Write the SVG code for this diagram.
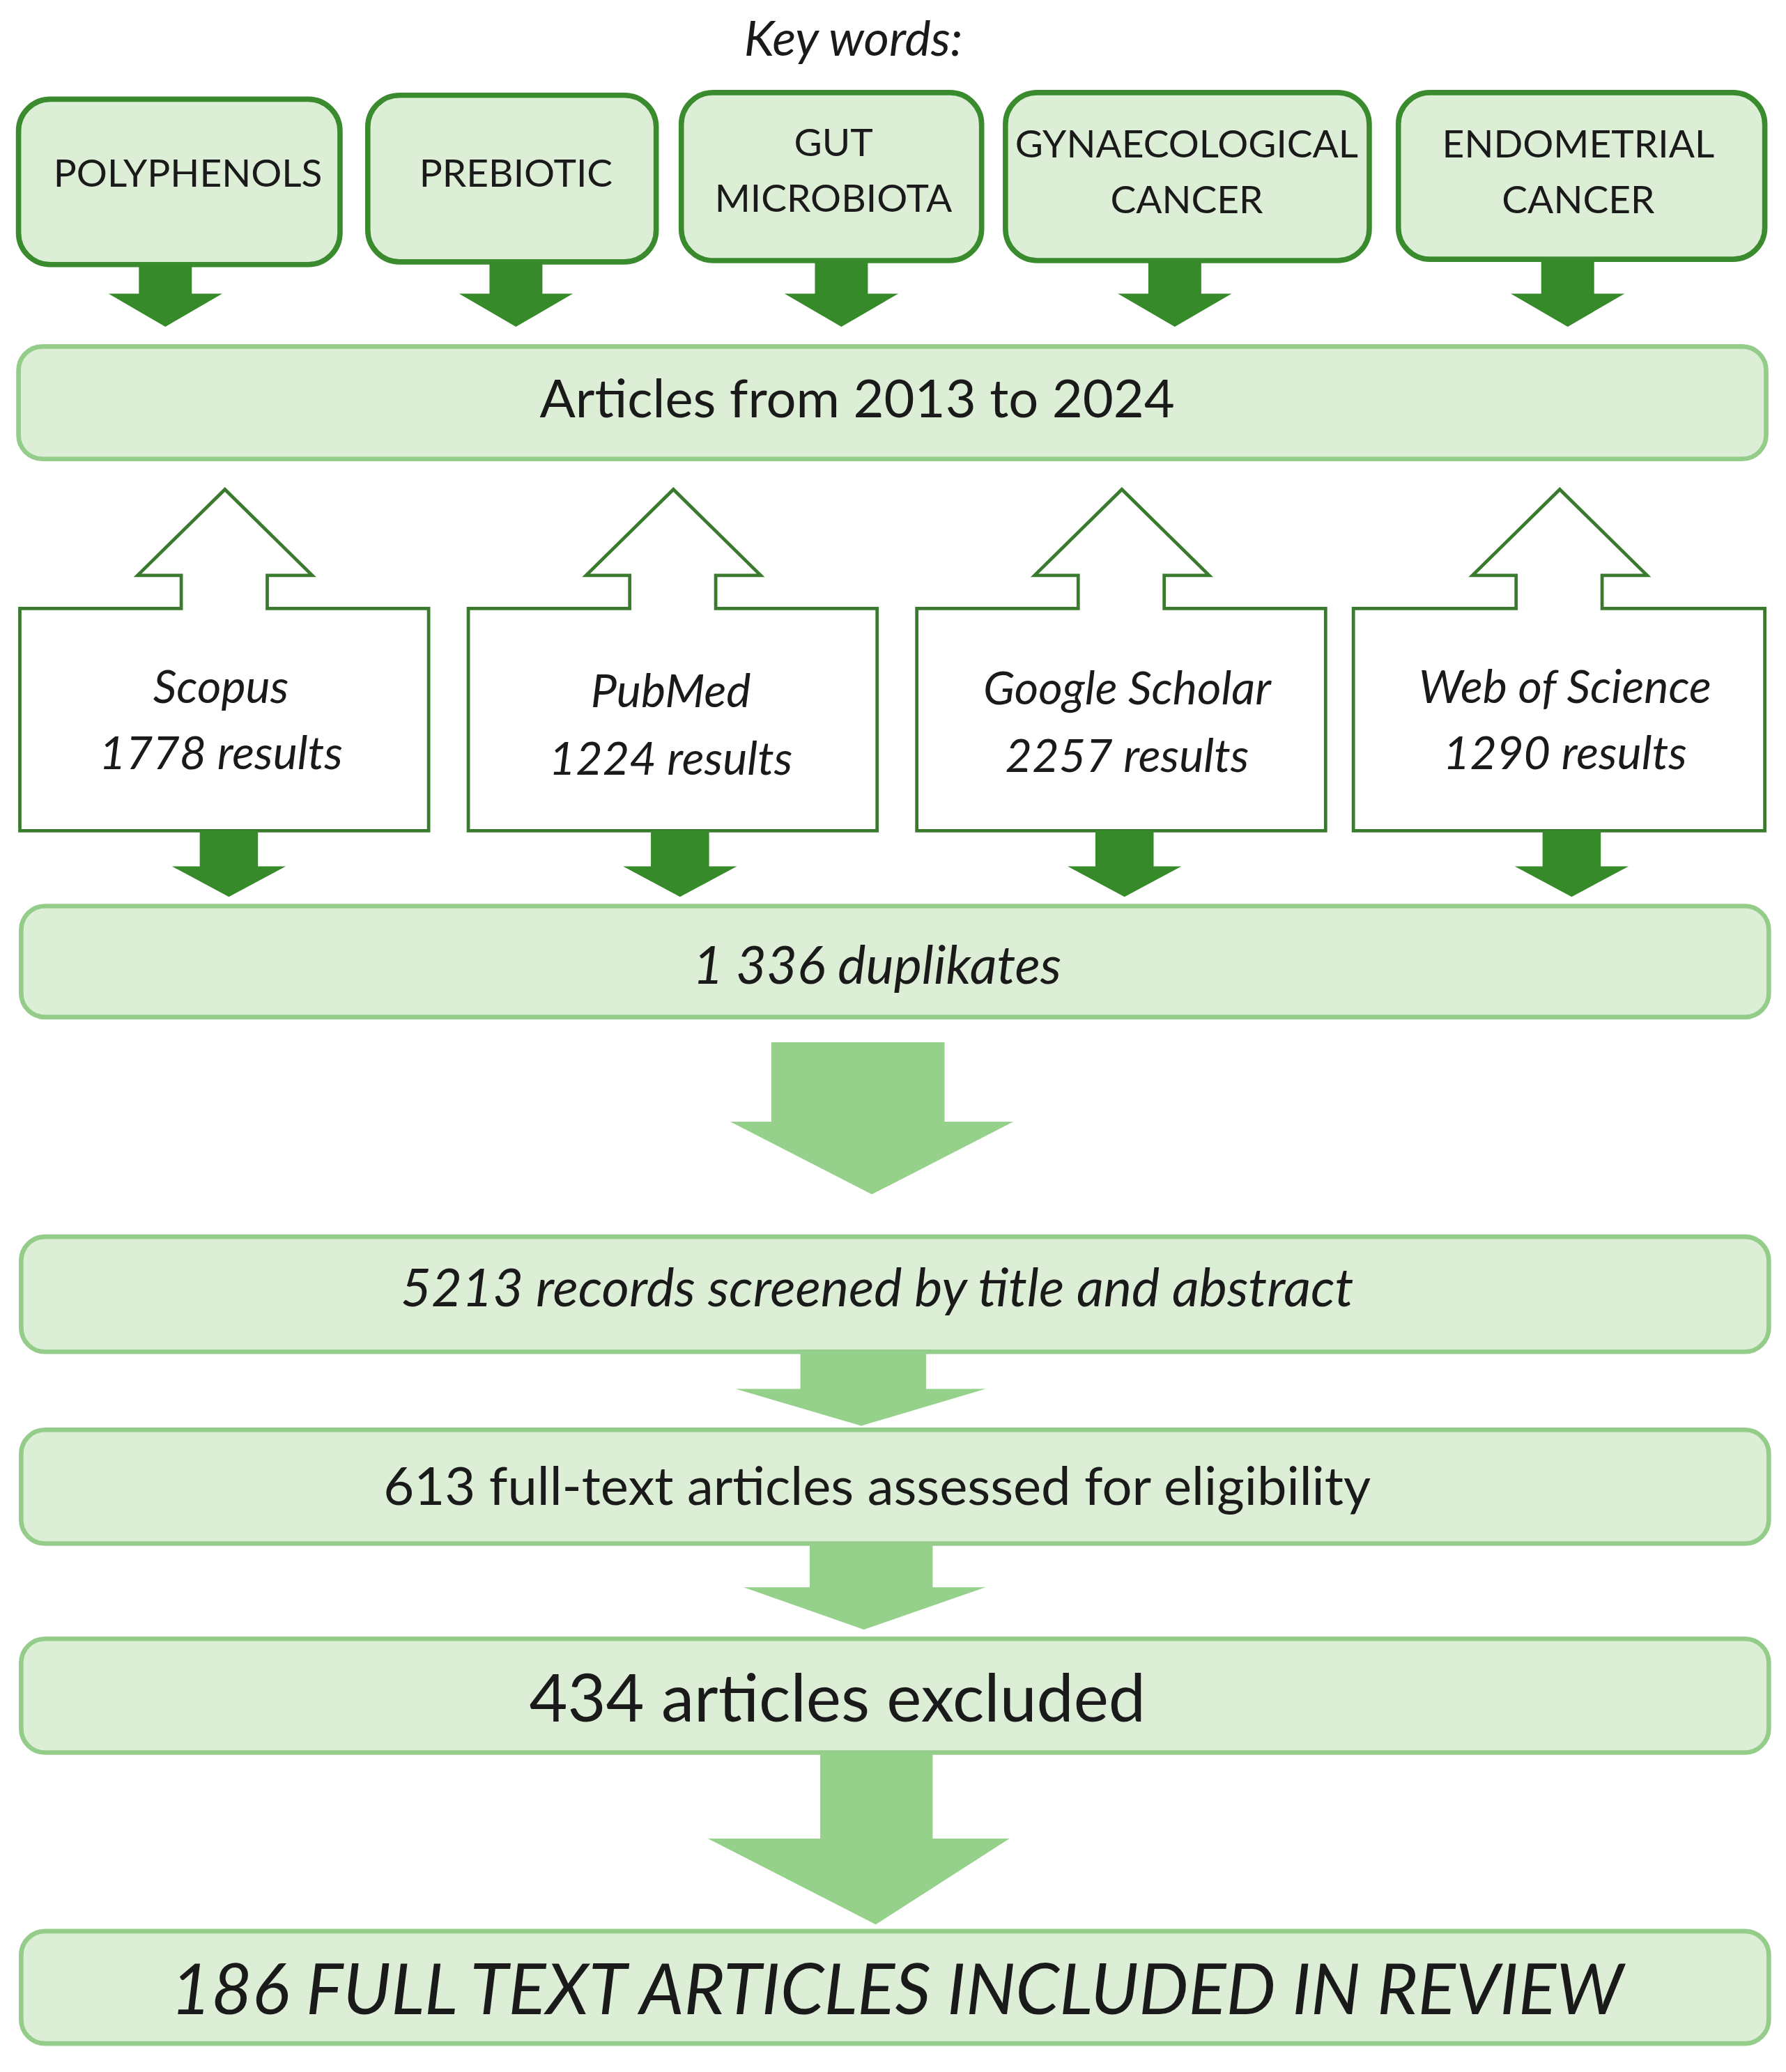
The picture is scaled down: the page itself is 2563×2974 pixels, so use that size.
<svg xmlns="http://www.w3.org/2000/svg" width="2563" height="2974" viewBox="0 0 2563 2974">
<style>
.kw{fill:#dcefd6;stroke:#3a8a2e;stroke-width:4}
.lb{fill:#dcefd6;stroke:#94cc8a;stroke-width:3.5}
.sb{fill:#fff;stroke:#3a7a2e;stroke-width:2.5}
.da{fill:#368a2a}
.la{fill:#96d18b}
text{font-family:Lato,"Open Sans",sans-serif;fill:#1a1a1a;text-anchor:middle;dominant-baseline:central}
.k{font-size:29px}
.s{font-size:35px;font-style:italic}
.m{font-size:40px}
</style>
<rect width="2563" height="2974" fill="#fff"/>
<g transform="scale(1.8985)">
<text x="645" y="28" class="s" style="font-size:37px">Key words:</text>
<g id="kw1"><rect class="kw" x="14" y="75" width="243" height="125" rx="24"/><text class="k" x="142" y="130">POLYPHENOLS</text></g>
<g id="kw2"><rect class="kw" x="278" y="72" width="218" height="126" rx="24"/><text class="k" x="390" y="130">PREBIOTIC</text></g>
<g id="kw3"><rect class="kw" x="515" y="70" width="227" height="127" rx="24"/><text class="k" x="630" y="107">GUT</text><text class="k" x="630" y="149">MICROBIOTA</text></g>
<g id="kw4"><rect class="kw" x="760" y="70" width="275" height="127" rx="24"/><text class="k" x="897" y="108">GYNAECOLOGICAL</text><text class="k" x="897" y="150">CANCER</text></g>
<g id="kw5"><rect class="kw" x="1057" y="70" width="277" height="126" rx="24"/><text class="k" x="1193" y="108">ENDOMETRIAL</text><text class="k" x="1193" y="150">CANCER</text></g>
<g id="articles"><rect class="lb" x="14" y="262" width="1321" height="85" rx="18"/><text class="m" x="648" y="300">Articles from 2013 to 2024</text></g>
<g id="src1"><path class="sb" d="M15 460H137V435H104L170 370L236 435H202V460H324V628H15Z"/><text class="s" x="167" y="518">Scopus</text><text class="s" x="167" y="568">1778 results</text></g>
<g id="src2"><path class="sb" d="M354 460H476V435H443L509 370L575 435H541V460H663V628H354Z"/><text class="s" x="507" y="521">PubMed</text><text class="s" x="507" y="572">1224 results</text></g>
<g id="src3"><path class="sb" d="M693 460H815V435H782L848 370L914 435H880V460H1002V628H693Z"/><text class="s" x="852" y="519">Google Scholar</text><text class="s" x="852" y="570">2257 results</text></g>
<g id="src4"><path class="sb" d="M1023 460H1146V435H1113L1179 370L1245 435H1211V460H1334V628H1023Z"/><text class="s" x="1183" y="518">Web of Science</text><text class="s" x="1183" y="568">1290 results</text></g>
<g id="dup"><rect class="lb" x="16" y="685" width="1321" height="84" rx="18"/><text class="s" style="font-size:40px" x="663" y="728">1 336 duplikates</text></g>
<g id="rec"><rect class="lb" x="16" y="935" width="1321" height="87" rx="18"/><text class="s" style="font-size:40px" x="663" y="972">5213 records screened by title and abstract</text></g>
<g id="full"><rect class="lb" x="16" y="1081" width="1321" height="86" rx="18"/><text class="m" x="663" y="1122">613 full-text articles assessed for eligibility</text></g>
<g id="excl"><rect class="lb" x="16" y="1239" width="1321" height="86" rx="18"/><text class="m" style="font-size:50px" x="633" y="1282">434 articles excluded</text></g>
<g id="incl"><rect class="lb" x="16" y="1460" width="1321" height="85" rx="18"/><text class="s" style="font-size:53px" x="678" y="1502">186 FULL TEXT ARTICLES INCLUDED IN REVIEW</text></g>
<g id="connectors">
<path class="da" d="M105 200H145V222H168L125 247L82 222H105Z"/>
<path class="da" d="M370 198H410V222H433L390 247L347 222H370Z"/>
<path class="da" d="M616 197H656V222H679L636 247L593 222H616Z"/>
<path class="da" d="M868 197H908V222H931L888 247L845 222H868Z"/>
<path class="da" d="M1165 196H1205V222H1228L1185 247L1142 222H1165Z"/>
<path class="da" d="M151 628H195V655H216L173 678L130 655H151Z"/>
<path class="da" d="M492 628H536V655H557L514 678L471 655H492Z"/>
<path class="da" d="M828 628H872V655H893L850 678L807 655H828Z"/>
<path class="da" d="M1166 628H1210V655H1231L1188 678L1145 655H1166Z"/>
<path class="la" d="M583 788H714V848H766L659 903L552 848H583Z"/>
<path class="la" d="M605 1022H700V1050H745L651 1078L556 1050H605Z"/>
<path class="la" d="M612 1167H705V1200H745L653 1232L562 1200H612Z"/>
<path class="la" d="M620 1325H705V1390H763L662 1455L535 1390H620Z"/>
</g>
</g>
</svg>
